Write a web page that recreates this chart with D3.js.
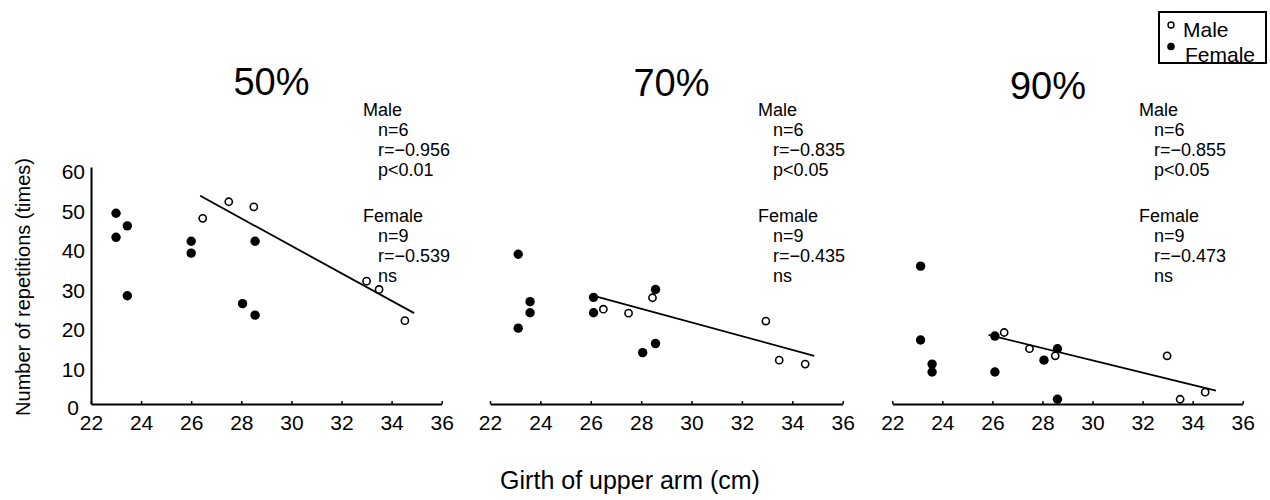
<!DOCTYPE html>
<html>
<head>
<meta charset="utf-8">
<script src="https://cdn.jsdelivr.net/npm/d3@7"></script>
<style>
  html, body { margin: 0; padding: 0; background: #fff; }
  svg { display: block; font-family: "Liberation Sans", Arial, Helvetica, sans-serif; }
</style>
</head>
<body>
<svg id="chart" width="1270" height="500"></svg>
<script>
// ---------------- data ----------------
const panelTitles = ["50%", "70%", "90%"];
const xTicks = [22, 24, 26, 28, 30, 32, 34, 36];
const yTicks = [0, 10, 20, 30, 40, 50, 60];

const maleX50 = [26.46, 27.5, 28.5, 33.0, 33.5, 34.53];
const maleY50 = [47.0, 51.2, 49.9, 31.1, 29.0, 21.1];
const femaleX50 = [23.0, 23.0, 23.45, 23.45, 26.0, 26.0, 28.55, 28.05, 28.55];
const femaleY50 = [48.3, 42.2, 45.1, 27.4, 41.2, 38.2, 41.2, 25.4, 22.5];
const fitX50 = [26.36, 34.9];
const fitY50 = [52.7, 23.0];

const maleX70 = [26.5, 27.5, 28.45, 32.95, 33.48, 34.51];
const maleY70 = [24.0, 23.0, 26.9, 21.0, 11.1, 10.1];
const femaleX70 = [23.12, 23.12, 23.59, 23.59, 26.11, 26.11, 28.57, 28.57, 28.06];
const femaleY70 = [37.9, 19.2, 25.9, 23.1, 27.0, 23.1, 29.0, 15.3, 13.0];
const fitX70 = [26.23, 34.87];
const fitY70 = [27.2, 12.2];

const maleX90 = [26.47, 27.48, 28.51, 32.98, 33.5, 34.5];
const maleY90 = [18.1, 14.0, 12.2, 12.2, 1.2, 3.0];
const femaleX90 = [23.13, 23.13, 23.59, 23.59, 26.1, 26.1, 28.6, 28.06, 28.6];
const femaleY90 = [34.9, 16.2, 10.1, 8.1, 17.2, 8.1, 14.0, 11.1, 1.2];
const fitX90 = [25.85, 34.93];
const fitY90 = [17.5, 3.4];

const maleStats = [
  ["Male", "n=6", "r=\u22120.956", "p<0.01"],
  ["Male", "n=6", "r=\u22120.835", "p<0.05"],
  ["Male", "n=6", "r=\u22120.855", "p<0.05"]
];
const femaleStats = [
  ["Female", "n=9", "r=\u22120.539", "ns"],
  ["Female", "n=9", "r=\u22120.435", "ns"],
  ["Female", "n=9", "r=\u22120.473", "ns"]
];
const legendLabels = ["Male", "Female"];
const yTitle = "Number of repetitions (times)";
const xTitle = "Girth of upper arm (cm)";

// ---------------- layout ----------------
const svg = d3.select("#chart");
const yTop = 167, yBottom = 404;
const panelRanges = [[91, 441.7], [490, 842.7], [892.3, 1242.7]];
const titleX = [271.5, 671.5, 1048];
const titleY = [95, 96, 99];
const statsX = [363, 758, 1139];
const statsIndent = 15;

const y = d3.scaleLinear().domain([0, 60]).range([yBottom, yTop]);

const panels = [
  {mx: maleX50, my: maleY50, fx: femaleX50, fy: femaleY50, lx: fitX50, ly: fitY50},
  {mx: maleX70, my: maleY70, fx: femaleX70, fy: femaleY70, lx: fitX70, ly: fitY70},
  {mx: maleX90, my: maleY90, fx: femaleX90, fy: femaleY90, lx: fitX90, ly: fitY90}
];

panels.forEach((p, i) => {
  const x = d3.scaleLinear().domain([22, 36]).range(panelRanges[i]);
  const g = svg.append("g");

  // x axis
  const xa = g.append("g")
    .attr("transform", `translate(0,${yBottom})`)
    .call(d3.axisBottom(x).tickValues(xTicks).tickSizeInner(-3).tickSizeOuter(0).tickPadding(11));
  xa.select(".domain").attr("stroke", "#000").attr("stroke-width", 2);
  xa.selectAll(".tick line").attr("stroke", "#000").attr("stroke-width", 1.5);
  xa.selectAll(".tick text").attr("font-size", 21).attr("fill", "#000")
    .attr("font-family", "Liberation Sans, Arial, sans-serif");

  // y axis on first panel only
  if (i === 0) {
    const ya = g.append("g")
      .attr("transform", `translate(${panelRanges[0][0]},0)`)
      .call(d3.axisLeft(y).tickValues(yTicks).tickSize(0).tickPadding(6));
    ya.select(".domain").attr("stroke", "#000").attr("stroke-width", 2);
    ya.selectAll(".tick text").attr("font-size", 21).attr("fill", "#000")
      .attr("dy", "11.5px")
      .attr("font-family", "Liberation Sans, Arial, sans-serif");
    ya.selectAll(".tick text").filter(d => d === 0).attr("dx", "-6px").attr("dy", "10px");
  }

  // regression line
  const fit = p.lx.map((v, k) => [v, p.ly[k]]);
  g.append("path")
    .attr("d", d3.line().x(d => x(d[0])).y(d => y(d[1]))(fit))
    .attr("fill", "none").attr("stroke", "#000").attr("stroke-width", 1.8);

  // female points (filled)
  const fem = p.fx.map((v, k) => [v, p.fy[k]]);
  g.selectAll("circle.f").data(fem).enter().append("circle")
    .attr("class", "f")
    .attr("cx", d => x(d[0])).attr("cy", d => y(d[1]))
    .attr("r", 4.7).attr("fill", "#000");

  // male points (open)
  const mal = p.mx.map((v, k) => [v, p.my[k]]);
  g.selectAll("circle.m").data(mal).enter().append("circle")
    .attr("class", "m")
    .attr("cx", d => x(d[0])).attr("cy", d => y(d[1]))
    .attr("r", 3.6).attr("fill", "#fff").attr("stroke", "#000").attr("stroke-width", 1.6);

  // title
  g.append("text").attr("x", titleX[i]).attr("y", titleY[i])
    .attr("text-anchor", "middle").attr("font-size", 38).text(panelTitles[i]);

  // stats
  const st = g.append("g").attr("font-size", 18).attr("fill", "#000");
  maleStats[i].forEach((t, k) => {
    st.append("text").attr("x", statsX[i] + (k === 0 ? 0 : statsIndent))
      .attr("y", 116 + k * 20).text(t);
  });
  femaleStats[i].forEach((t, k) => {
    st.append("text").attr("x", statsX[i] + (k === 0 ? 0 : statsIndent))
      .attr("y", 222 + k * 20).text(t);
  });
});

// axis titles
svg.append("text")
  .attr("transform", "translate(30,287) rotate(-90)")
  .attr("text-anchor", "middle").attr("font-size", 20).text(yTitle);
svg.append("text")
  .attr("x", 630).attr("y", 489)
  .attr("text-anchor", "middle").attr("font-size", 25).text(xTitle);

// legend
const lg = svg.append("g");
lg.append("text").attr("x", 1183).attr("y", 37).attr("font-size", 21).text(legendLabels[0]);
lg.append("text").attr("x", 1185).attr("y", 62).attr("font-size", 21).text(legendLabels[1]);
lg.append("rect").attr("x", 1159).attr("y", 12).attr("width", 107).attr("height", 51)
  .attr("fill", "none").attr("stroke", "#000").attr("stroke-width", 2);
lg.append("circle").attr("cx", 1171).attr("cy", 25).attr("r", 3)
  .attr("fill", "#fff").attr("stroke", "#000").attr("stroke-width", 1.4);
lg.append("circle").attr("cx", 1171).attr("cy", 46.5).attr("r", 3.8).attr("fill", "#000");
</script>
</body>
</html>
